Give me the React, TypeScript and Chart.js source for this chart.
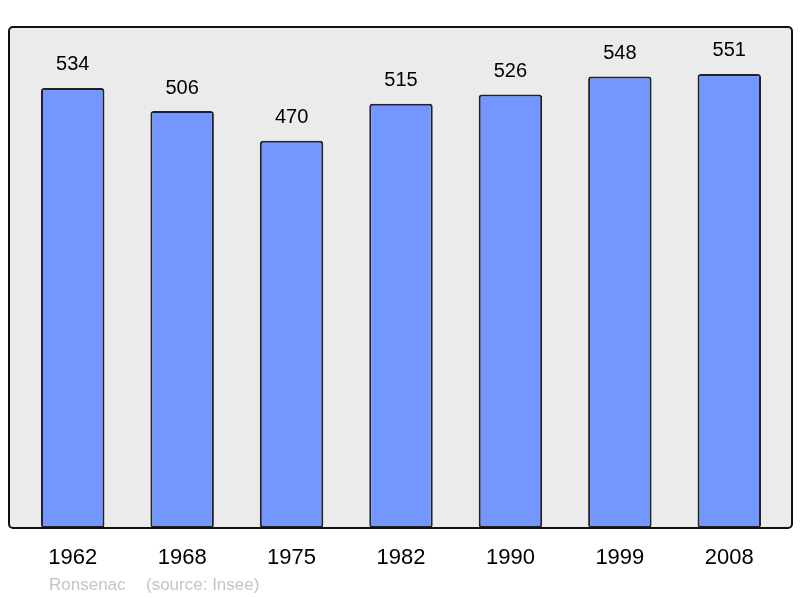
import React, { useEffect, useRef } from "react";
import { Chart, registerables } from "chart.js";

Chart.register(...registerables);

const years = ["1962", "1968", "1975", "1982", "1990", "1999", "2008"];
const population = [534, 506, 470, 515, 526, 548, 551];
const footerLeft = "Ronsenac";
const footerRight = "(source: Insee)";

const FONT = "'Liberation Sans', Arial, sans-serif";

const boxPlugin = {
  id: "boxPlugin",
  beforeDraw(chart: any) {
    const { ctx, chartArea } = chart;
    const l = chartArea.left - 9;
    const r = chartArea.right + 8;
    const t = chartArea.top;
    const b = chartArea.bottom;
    ctx.save();
    ctx.beginPath();
    ctx.roundRect(l, t, r - l, b - t, 4);
    ctx.fillStyle = "#ebebeb";
    ctx.fill();
    ctx.restore();
  },
  afterDatasetsDraw(chart: any) {
    const { ctx, chartArea } = chart;
    const l = chartArea.left - 9;
    const r = chartArea.right + 8;
    const t = chartArea.top;
    const b = chartArea.bottom;
    ctx.save();
    ctx.beginPath();
    ctx.roundRect(l, t, r - l, b - t, 4);
    ctx.lineWidth = 2;
    ctx.strokeStyle = "#111";
    ctx.stroke();
    const meta = chart.getDatasetMeta(0);
    ctx.fillStyle = "#000";
    ctx.font = `20px ${FONT}`;
    ctx.textAlign = "center";
    ctx.textBaseline = "middle";
    meta.data.forEach((bar: any, i: number) => {
      ctx.fillText(String(population[i]), bar.x, bar.y - 23);
    });
    ctx.fillStyle = "#c4c4c4";
    ctx.font = `17px ${FONT}`;
    ctx.textAlign = "left";
    ctx.fillText(footerLeft, 49, 585);
    ctx.fillText(footerRight, 146, 585);
    ctx.restore();
  },
};

export default function App() {
  const ref = useRef<HTMLCanvasElement>(null);
  useEffect(() => {
    const chart = new Chart(ref.current!, {
      type: "bar",
      data: {
        labels: years,
        datasets: [
          {
            data: population,
            backgroundColor: "#7396ff",
            borderColor: "#222",
            borderWidth: 2,
            borderRadius: 3,
            borderSkipped: false,
            barPercentage: 0.58,
            categoryPercentage: 1,
          },
        ],
      },
      options: {
        animation: false,
        responsive: false,
        layout: { padding: { left: 18, right: 16, top: 27, bottom: 0 } },
        plugins: { legend: { display: false }, tooltip: { enabled: false } },
        scales: {
          x: {
            grid: { display: false, drawTicks: false },
            border: { display: false },
            ticks: { color: "#000", font: { size: 22, family: FONT }, padding: 17, maxRotation: 0 },
            afterFit: (scale: any) => {
              scale.height = 70;
            },
          },
          y: {
            display: false,
            min: 0,
            max: 608,
          },
        },
      },
      plugins: [boxPlugin],
    });
    return () => chart.destroy();
  }, []);
  return (
    <div style={{ position: "fixed", left: 0, top: 0, width: 800, height: 598, background: "#fff" }}>
      <canvas ref={ref} width={800} height={598} />
    </div>
  );
}
